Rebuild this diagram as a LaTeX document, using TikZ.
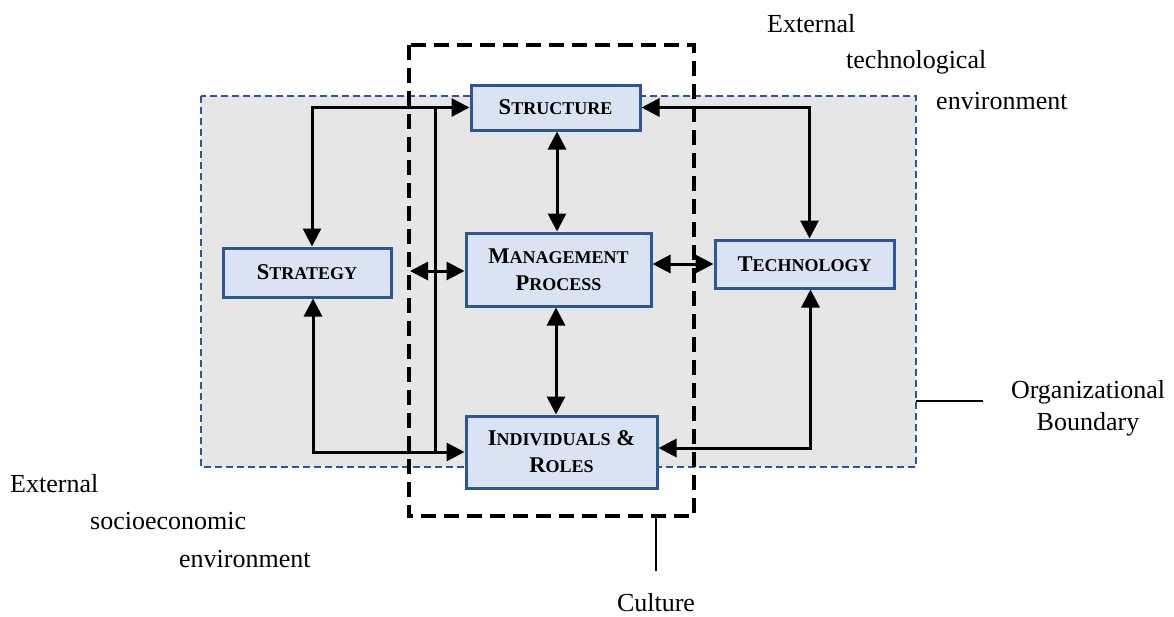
\documentclass[tikz,border=0pt]{standalone}
\usepackage{fontspec}
\setmainfont{Liberation Serif}
\usetikzlibrary{arrows.meta,calc}
\definecolor{boxfill}{HTML}{DAE3F3}
\definecolor{boxline}{HTML}{2F5597}
\definecolor{orgfill}{HTML}{E6E6E6}
\newcommand\SCx[2]{{\fontsize{22.5}{27}\selectfont #1}{\fontsize{18}{27}\selectfont #2}}
\tikzset{
  unit/.style={draw=boxline, fill=boxfill, line width=3pt, inner sep=0pt,
    align=center, font=\fontsize{22.5}{27}\selectfont\bfseries},
  link/.style={line width=3pt, black},
  dbl/.style={link, {Triangle[length=18pt,width=18pt]}-{Triangle[length=18pt,width=18pt]}},
  note/.style={font=\fontsize{26}{32}\selectfont, inner sep=0pt},
  orgbox/.style={draw=boxline, fill=orgfill, line width=2.4pt, dash pattern=on 7pt off 4pt},
  culturebox/.style={draw=black, line width=3.4pt, dash pattern=on 15pt off 8pt},
  tick/.style={line width=2.6pt, black},
}
\begin{document}
\begin{tikzpicture}[x=1pt,y=-1pt]
\useasboundingbox (0,0) rectangle (1174,616);
% organizational boundary
\draw[orgbox] (201,96) rectangle (916,467);
% culture
\draw[culturebox] (409,45) rectangle (694,516);

% boxes
\node[unit, minimum width=169pt, minimum height=45pt] (structure) at (555.5,107.5) {\SCx{S}{TRUCTURE}};
\node[unit, minimum width=185pt, minimum height=73pt] (management) at (558.5,269.5) {\SCx{M}{ANAGEMENT}\\\SCx{P}{ROCESS}};
\node[unit, minimum width=168pt, minimum height=49pt] (strategy) at (307,272.5) {\SCx{S}{TRATEGY}};
\node[unit, minimum width=179pt, minimum height=48pt] (technology) at (804.5,264) {\SCx{T}{ECHNOLOGY}};
\node[unit, minimum width=191pt, minimum height=72pt] (individuals) at (561.5,452) {\SCx{I}{NDIVIDUALS} \&\\\SCx{R}{OLES}};

% helper coordinates
\coordinate (vx) at (435,0);
\coordinate (cl) at (410,0);

% connectors
\draw[dbl] ([xshift=5pt]strategy.north) |- (structure.west);
\draw[dbl] ([xshift=6pt]strategy.south) |- (individuals.west);
\draw[link] (structure.west -| vx) -- (individuals.west -| vx);
\draw[dbl] ([yshift=-1.5pt]management.west -| cl) -- ([yshift=-1.5pt]management.west);
\draw[dbl] ([xshift=1.5pt]structure.south) -- ([xshift=1.5pt]structure.south |- management.north);
\draw[dbl] (technology.west -| management.east) -- (technology.west);
\draw[dbl] (structure.east) -| ([xshift=5pt]technology.north);
\draw[dbl] ([xshift=6pt]technology.south) |- ([yshift=4pt]individuals.east);
\draw[dbl] ([xshift=-2.5pt]management.south) -- ([xshift=-2.5pt]management.south |- individuals.north);

% organizational boundary label
\coordinate (ob) at (916,401);
\coordinate (obend) at (983,401);
\draw[tick] (ob) -- (obend);
\node[note, anchor=base] (orgA) at (1088,398) {Organizational};
\node[note, anchor=base] (orgB) at (1088,430) {Boundary};

% culture label
\coordinate (cu1) at (656,516);
\coordinate (cu2) at (656,571);
\draw[tick] (cu1) -- (cu2);
\node[note, anchor=base] (culture) at (656,611) {Culture};

% external technological environment
\node[note, anchor=base west] (et1) at (767,32) {External};
\node[note, anchor=base west] (et2) at (846,68) {technological};
\node[note, anchor=base west] (et3) at (936,109) {environment};

% external socioeconomic environment
\node[note, anchor=base west] (es1) at (10,492) {External};
\node[note, anchor=base west] (es2) at (90,529) {socioeconomic};
\node[note, anchor=base west] (es3) at (179,567) {environment};
\end{tikzpicture}
\end{document}
